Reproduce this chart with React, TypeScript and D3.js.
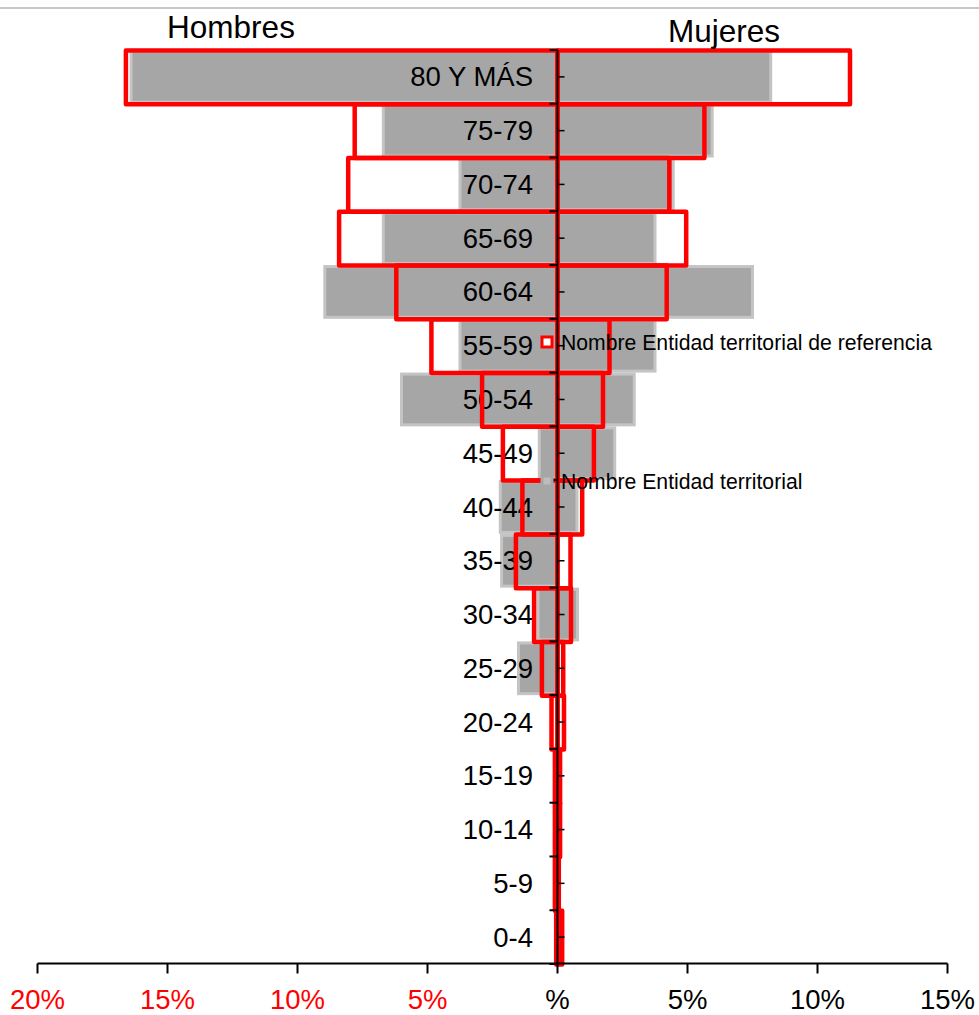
import React from "react";
import * as d3 from "d3";

const categories = ["80 Y MÁS", "75-79", "70-74", "65-69", "60-64", "55-59", "50-54", "45-49", "40-44", "35-39", "30-34", "25-29", "20-24", "15-19", "10-14", "5-9", "0-4"];
// "Nombre Entidad territorial" (gray bars), percent
const entidadHombres = [16.4, 6.7, 3.75, 6.7, 8.95, 3.75, 6.0, 0.7, 2.2, 2.15, 0.75, 1.5, 0, 0, 0, 0, 0];
const entidadMujeres = [8.2, 5.95, 4.45, 3.75, 7.5, 3.75, 2.95, 2.2, 0.75, 0, 0.77, 0, 0, 0, 0, 0, 0];
// "Nombre Entidad territorial de referencia" (red outlined bars), percent
const referenciaHombres = [16.6, 7.8, 8.05, 8.4, 6.2, 4.85, 2.9, 2.1, 1.35, 1.6, 0.9, 0.6, 0.23, 0.1, 0.1, 0.1, 0.05];
const referenciaMujeres = [11.25, 5.65, 4.3, 4.95, 4.2, 2.0, 1.75, 1.4, 0.95, 0.5, 0.52, 0.22, 0.25, 0.1, 0.1, 0.05, 0.18];
const tickValues = [-20, -15, -10, -5, 0, 5, 10, 15];
const tickLabels = ["20%", "15%", "10%", "5%", "%", "5%", "10%", "15%"];
const legendLabels = ["Nombre Entidad territorial de referencia", "Nombre Entidad territorial"];

const W = 979;
const H = 1015;
const FONT = "'Liberation Sans', Arial, sans-serif";

export default function App() {
  const x = d3.scaleLinear().domain([-20, 15]).range([37.5, 947.5]);
  const y = d3.scaleBand<string>().domain(categories).range([50, 964]).padding(0);
  const bw = y.bandwidth();
  const x0 = x(0);
  const axisY = 963.5;

  const rectFor = (v: number, side: number) => {
    const xa = x0;
    const xb = x(side * v);
    return { x: Math.min(xa, xb), w: Math.abs(xb - xa) };
  };

  return (
    <svg width={W} height={H} style={{ position: "absolute", left: 0, top: 0, background: "#fff" }} fontFamily={FONT}>
      <rect x={0} y={0} width={W} height={H} fill="#fff" />
      <line x1={0} x2={W} y1={8} y2={8} stroke="#c8c8c8" strokeWidth={2} />

      {/* gray bars */}
      {categories.map((c, i) => {
        const y0 = y(c)!;
        const parts = [rectFor(entidadHombres[i], -1), rectFor(entidadMujeres[i], 1)];
        return parts.map((p, j) =>
          p.w > 0 ? (
            <rect key={`g${i}-${j}`} x={p.x} y={y0 + 1.5} width={p.w} height={bw - 3} fill="#a6a6a6" stroke="#c4c4c4" strokeWidth={3} />
          ) : null
        );
      })}

      {/* category labels */}
      {categories.map((c) => (
        <text key={`l${c}`} x={533} y={y(c)! + bw / 2} textAnchor="end" dominantBaseline="central" fontSize={27.5} fill="#000">
          {c}
        </text>
      ))}

      {/* red outlined bars */}
      {categories.map((c, i) => {
        const y0 = y(c)!;
        const parts = [rectFor(referenciaHombres[i], -1), rectFor(referenciaMujeres[i], 1)];
        return parts.map((p, j) => (
          <rect key={`r${i}-${j}`} x={p.x} y={y0 + 0.5} width={p.w} height={bw} fill="none" stroke="#ff0000" strokeWidth={4.5} strokeLinejoin="round" />
        ));
      })}

      {/* vertical axis */}
      <line x1={x0} x2={x0} y1={50} y2={axisY} stroke="#000" strokeWidth={2} />
      {d3.range(categories.length + 1).map((k) => (
        <line key={`bt${k}`} x1={x0 - 8} x2={x0} y1={50 + k * bw} y2={50 + k * bw} stroke="#000" strokeWidth={2} />
      ))}
      {categories.map((c) => (
        <line key={`ct${c}`} x1={x0} x2={x0 + 7} y1={y(c)! + bw / 2} y2={y(c)! + bw / 2} stroke="#000" strokeWidth={1.5} />
      ))}

      {/* horizontal axis */}
      <line x1={x(-20)} x2={x(15)} y1={axisY} y2={axisY} stroke="#000" strokeWidth={2} />
      {tickValues.map((t, i) => (
        <g key={`t${t}`}>
          <line x1={x(t)} x2={x(t)} y1={axisY} y2={axisY + 10} stroke="#000" strokeWidth={2} />
          <text x={x(t)} y={999} textAnchor="middle" dominantBaseline="central" fontSize={27.5} fill={t < 0 ? "#ff0000" : "#000"}>
            {tickLabels[i]}
          </text>
        </g>
      ))}

      {/* titles */}
      <text x={231} y={38} textAnchor="middle" fontSize={31.5} fill="#000">Hombres</text>
      <text x={724} y={42} textAnchor="middle" fontSize={31.5} fill="#000">Mujeres</text>

      {/* legend */}
      <rect x={542} y={337} width={10} height={10} fill="#fff" stroke="#ff0000" strokeWidth={3} />
      <text x={561} y={342} dominantBaseline="central" fontSize={21.2} fill="#000">{legendLabels[0]}</text>
      <rect x={542} y={476} width={10} height={10} fill="#bcbcbc" stroke="#a6a6a6" strokeWidth={3} />
      <text x={561} y={481} dominantBaseline="central" fontSize={21.2} fill="#000">{legendLabels[1]}</text>
    </svg>
  );
}
